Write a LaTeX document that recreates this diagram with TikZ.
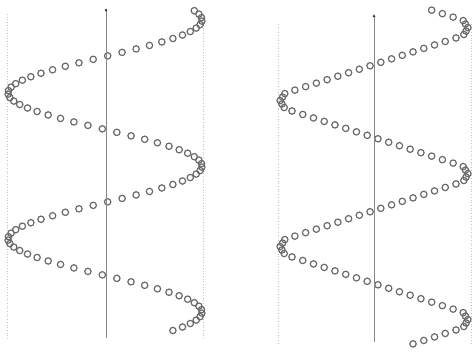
\documentclass[tikz,border=0pt]{standalone}
\usetikzlibrary{arrows.meta}
\definecolor{axisbrown}{HTML}{948282}
\definecolor{beadgray}{HTML}{6A6A6A}
\definecolor{guidegray}{HTML}{C4C4C4}
\definecolor{tipdark}{HTML}{333333}

\begin{document}
\begin{tikzpicture}[x=1pt, y=-1pt,
    bead/.style={draw=beadgray, line width=1.2pt},
    guide/.style={draw=guidegray, dotted, line width=0.7pt},
    axis/.style={draw=axisbrown, line width=1pt, -{Latex[length=3pt, width=3pt, color=tipdark]}}]
  \useasboundingbox (0,0) rectangle (474,354);
  % Guias punteadas
  \draw[guide] (7,14) -- (7,340);
  \draw[guide] (203,14) -- (203,340);
  \draw[guide] (278,24) -- (278,344);
  \draw[guide] (471,24) -- (471,344);
  % Helice izquierda (sinusoidal)
  \foreach \i in {0,...,92} {
    \pgfmathsetmacro{\ang}{-23+\i*8.5714}
    \draw[bead] ({105+97*cos(\ang)}, {20+0.40556*\ang}) circle (3.2pt);
  }
  % Helice derecha (zigzag)
  \foreach \i in {0,...,96} {
    \pgfmathsetmacro{\ang}{-44+\i*8.5714}
    \pgfmathsetmacro{\tri}{asin(cos(\ang))/90}
    \pgfmathsetmacro{\hx}{max(min(1.2*\tri, 0.75+0.25*\tri), -0.75+0.25*\tri)}
    \draw[bead] ({374+94*\hx}, {28+0.40556*\ang}) circle (3.2pt);
  }
  % Ejes
  \draw[axis] (106,338) -- (106,8);
  \draw[axis] (374,342) -- (374,14);
\end{tikzpicture}
\end{document}
